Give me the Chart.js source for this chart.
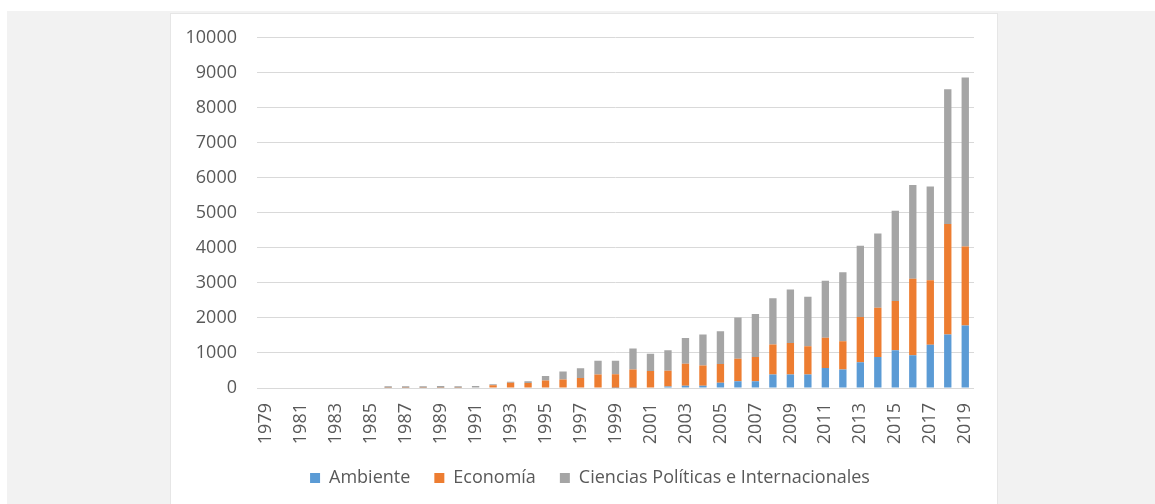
<!DOCTYPE html>
<html>
<head>
<meta charset="utf-8">
<script src="https://cdn.jsdelivr.net/npm/chart.js@4.4.1/dist/chart.umd.min.js"></script>
<style>
  html, body { margin: 0; padding: 0; background: #ffffff; }
  body { width: 1155px; height: 504px; position: relative; overflow: hidden; font-family: "Open Sans", sans-serif; }
  #backdrop { position: absolute; left: 7px; top: 11px; width: 1148px; height: 493px; background: #f2f2f2; }
  #panel { position: absolute; left: 170px; top: 13px; width: 826px; height: 491px; background: #ffffff; border: 1px solid #e6e6e6; border-bottom: none; }
  #wrap { position: absolute; left: 170px; top: 7px; width: 840px; height: 497px; }
</style>
</head>
<body>
<div id="backdrop"></div>
<div id="panel"></div>
<div id="wrap"><canvas id="c"></canvas></div>
<script>
// Publication counts per year, 1979–2019
const years = [1979,1980,1981,1982,1983,1984,1985,1986,1987,1988,1989,1990,1991,1992,1993,1994,1995,1996,1997,1998,1999,2000,2001,2002,2003,2004,2005,2006,2007,2008,2009,2010,2011,2012,2013,2014,2015,2016,2017,2018,2019];

const ambiente = [0,0,0,0,0,0,0,0,0,0,0,0,0,0,0,0,0,0,0,0,10,10,15,40,65,65,150,190,190,384,384,384,573,526,736,888,1080,937,1232,1530,1788];

const economia = [0,0,0,0,0,0,0,10,10,10,10,10,15,80,150,143,212,240,287,384,385,520,470,450,630,580,538,646,695,859,901,811,860,812,1290,1404,1404,2186,1845,3152,2252];

const cienciasPoliticas = [0,0,0,0,0,0,0,40,40,40,45,40,40,30,25,47,132,230,278,391,380,595,495,585,730,880,932,1179,1230,1322,1525,1412,1633,1968,2034,2121,2579,2676,2674,3848,4825];

const seriesNames = ['Ambiente', 'Economía', 'Ciencias Políticas e Internacionales'];
const seriesColors = ['#5b9bd5', '#ed7d31', '#a5a5a5'];
const yTicks = [0,1000,2000,3000,4000,5000,6000,7000,8000,9000,10000];

const textColor = '#595959';
const fontFamily = '"Open Sans", sans-serif';

const datasets = [ambiente, economia, cienciasPoliticas].map((values, i) => ({
  label: seriesNames[i],
  data: values,
  backgroundColor: seriesColors[i],
  borderWidth: 0,
  categoryPercentage: 1.0,
  barPercentage: 0.42
}));

new Chart(document.getElementById('c'), {
  type: 'bar',
  data: { labels: years.map(String), datasets },
  options: {
    responsive: true,
    maintainAspectRatio: false,
    animation: false,
    layout: { padding: { left: 0, right: 0, top: 0, bottom: 7 } },
    plugins: {
      tooltip: { enabled: false },
      legend: {
        position: 'bottom',
        labels: {
          boxWidth: 10,
          boxHeight: 10,
          padding: 24,
          color: textColor,
          font: { family: fontFamily, size: 18 }
        }
      }
    },
    scales: {
      x: {
        stacked: true,
        grid: { display: false, drawTicks: false },
        border: { display: false },
        ticks: {
          autoSkip: false,
          maxRotation: 90,
          minRotation: 90,
          padding: 15,
          color: textColor,
          font: { family: fontFamily, size: 18 },
          callback: function (value, index) {
            return index % 2 === 0 ? this.getLabelForValue(value) : '';
          }
        },
        afterFit: (scale) => { scale.height = 57; }
      },
      y: {
        stacked: true,
        min: 0,
        max: 10000,
        afterBuildTicks: (scale) => { scale.ticks = yTicks.map(v => ({ value: v })); },
        grid: { color: '#d9d9d9', lineWidth: 1, drawTicks: false },
        border: { display: false },
        ticks: {
          padding: 20,
          color: textColor,
          font: { family: fontFamily, size: 18 },
          callback: (value) => String(value)
        },
        afterFit: (scale) => { scale.width = 87; }
      },
      // empty right-hand margin column that keeps the legend centred under the panel
      gutter: {
        position: 'right',
        display: true,
        grid: { display: false },
        border: { display: false },
        ticks: { display: false },
        afterFit: (scale) => { scale.width = 36; }
      }
    }
  }
});
</script>
</body>
</html>
